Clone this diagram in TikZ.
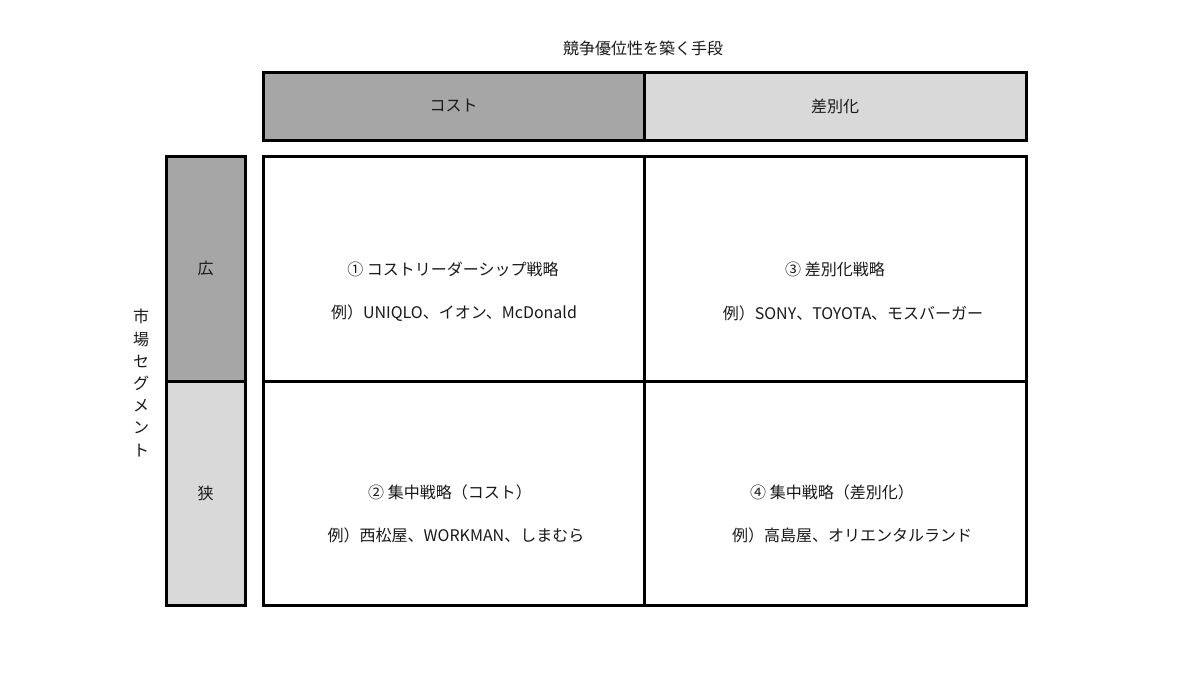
\documentclass[tikz,border=0pt]{standalone}
\usepackage{fontspec}
\setmainfont{Noto Sans CJK JP}
\begin{document}
\begin{tikzpicture}[x=1pt,y=-1pt,
  box/.style={draw=black,line width=3pt,inner sep=0pt,outer sep=0pt,rectangle},
  lbl/.style={inner sep=0pt,font=\fontsize{16}{19}\selectfont,text=black!90}]
\definecolor{darkg}{HTML}{A6A6A6}
\definecolor{lightg}{HTML}{D9D9D9}
\useasboundingbox[fill=white] (0,0) rectangle (1200,675);
% title
\node[lbl] (title) at (643,48) {競争優位性を築く手段};
% header
\node[box,fill=darkg,minimum width=381pt,minimum height=68pt] (cost) at (453.5,106) {};
\node[box,fill=lightg,minimum width=382pt,minimum height=68pt] (diff) at (835,106) {};
\node[lbl] at (cost.center) {コスト};
\node[lbl] at (diff.center) {差別化};
% left column
\node[box,fill=darkg,minimum width=79pt,minimum height=225pt] (wide) at (205.5,268.5) {};
\node[box,fill=lightg,minimum width=79pt,minimum height=224pt] (narrow) at (205.5,493) {};
\node[lbl] at (wide.center) {広};
\node[lbl] at (narrow.center) {狭};
% vertical label
\node[lbl,align=center,font=\fontsize{16}{22.2}\selectfont] (seg) at (141,383) {市\\場\\セ\\グ\\メ\\ン\\ト};
% grid cells
\node[box,minimum width=381pt,minimum height=225pt] (c1) at (453.5,268.5) {};
\node[box,minimum width=382pt,minimum height=225pt] (c3) at (835,268.5) {};
\node[box,minimum width=381pt,minimum height=224pt] (c2) at (453.5,493) {};
\node[box,minimum width=382pt,minimum height=224pt] (c4) at (835,493) {};
% cell texts
\node[lbl] (t1a) at (453,269) {① コストリーダーシップ戦略};
\node[lbl] (t1b) at (454,313) {例）UNIQLO、イオン、McDonald};
\node[lbl] (t3a) at (835,269) {③ 差別化戦略};
\node[lbl] (t3b) at (853,313) {例）SONY、TOYOTA、モスバーガー};
\node[lbl] (t2a) at (450,492) {② 集中戦略（コスト）};
\node[lbl] (t2b) at (456,535) {例）西松屋、WORKMAN、しまむら};
\node[lbl] (t4a) at (832,492) {④ 集中戦略（差別化）};
\node[lbl] (t4b) at (852,535) {例）高島屋、オリエンタルランド};
\end{tikzpicture}
\end{document}
